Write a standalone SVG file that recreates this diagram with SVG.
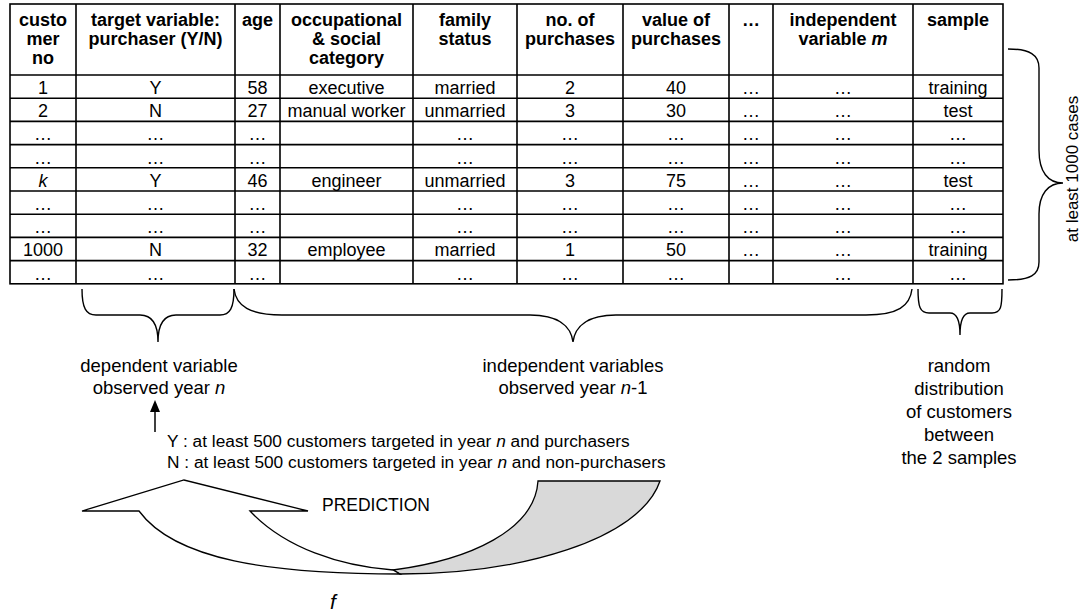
<svg xmlns="http://www.w3.org/2000/svg" width="1091" height="613" viewBox="0 0 1091 613">
  <style>
    text { font-family: "Liberation Sans", Arial, sans-serif; fill: #000; }
    .h { font-size: 18px; font-weight: bold; text-anchor: middle; }
    .c { font-size: 18px; text-anchor: middle; }
    .lbl { font-size: 18.5px; text-anchor: middle; }
    .note { font-size: 17.3px; }
    .grid { stroke: #000; stroke-width: 1.6; fill: none; }
    .brace { stroke: #000; stroke-width: 1.4; fill: none; }
    .shape { stroke: #000; stroke-width: 1.3; stroke-linejoin: miter; }
  </style>
  <rect width="1091" height="613" fill="#fff"/>

  <!-- data table -->
  <g id="table">
    <rect class="grid" x="10" y="4" width="993" height="279.8"/>
    <g class="grid">
      <path d="M76,4V283.8 M235,4V283.8 M280,4V283.8 M413,4V283.8 M517,4V283.8 M623,4V283.8 M729,4V283.8 M773,4V283.8 M913,4V283.8"/>
      <path d="M10,75H1003 M10,98.2H1003 M10,121.4H1003 M10,144.6H1003 M10,167.8H1003 M10,191H1003 M10,214.2H1003 M10,237.4H1003 M10,260.6H1003"/>
    </g>
    <!-- header -->
    <g id="header">
      <text class="h" x="43" y="26">custo</text>
      <text class="h" x="43" y="45">mer</text>
      <text class="h" x="43" y="64">no</text>
      <text class="h" x="155.5" y="26">target variable:</text>
      <text class="h" x="155.5" y="45">purchaser (Y/N)</text>
      <text class="h" x="257.5" y="26">age</text>
      <text class="h" x="346.5" y="26">occupational</text>
      <text class="h" x="346.5" y="45">&amp; social</text>
      <text class="h" x="346.5" y="64">category</text>
      <text class="h" x="465" y="26">family</text>
      <text class="h" x="465" y="45">status</text>
      <text class="h" x="570" y="26">no. of</text>
      <text class="h" x="570" y="45">purchases</text>
      <text class="h" x="676" y="26">value of</text>
      <text class="h" x="676" y="45">purchases</text>
      <text class="h" x="751" y="26">…</text>
      <text class="h" x="843" y="26">independent</text>
      <text class="h" x="843" y="45">variable <tspan font-style="italic">m</tspan></text>
      <text class="h" x="958" y="26">sample</text>
    </g>
    <!-- rows -->
    <g id="row1">
      <text class="c" x="43" y="94">1</text><text class="c" x="155.5" y="94">Y</text><text class="c" x="257.5" y="94">58</text>
      <text class="c" x="346.5" y="94">executive</text><text class="c" x="465" y="94">married</text><text class="c" x="570" y="94">2</text>
      <text class="c" x="676" y="94">40</text><text class="c" x="751" y="94">…</text><text class="c" x="843" y="94">…</text><text class="c" x="958" y="94">training</text>
    </g>
    <g id="row2">
      <text class="c" x="43" y="117.2">2</text><text class="c" x="155.5" y="117.2">N</text><text class="c" x="257.5" y="117.2">27</text>
      <text class="c" x="346.5" y="117.2">manual worker</text><text class="c" x="465" y="117.2">unmarried</text><text class="c" x="570" y="117.2">3</text>
      <text class="c" x="676" y="117.2">30</text><text class="c" x="751" y="117.2">…</text><text class="c" x="843" y="117.2">…</text><text class="c" x="958" y="117.2">test</text>
    </g>
    <g id="row3">
      <text class="c" x="43" y="140.4">…</text><text class="c" x="155.5" y="140.4">…</text><text class="c" x="257.5" y="140.4">…</text>
      <text class="c" x="465" y="140.4">…</text><text class="c" x="570" y="140.4">…</text>
      <text class="c" x="676" y="140.4">…</text><text class="c" x="751" y="140.4">…</text><text class="c" x="843" y="140.4">…</text><text class="c" x="958" y="140.4">…</text>
    </g>
    <g id="row4">
      <text class="c" x="43" y="163.6">…</text><text class="c" x="155.5" y="163.6">…</text><text class="c" x="257.5" y="163.6">…</text>
      <text class="c" x="465" y="163.6">…</text><text class="c" x="570" y="163.6">…</text>
      <text class="c" x="676" y="163.6">…</text><text class="c" x="751" y="163.6">…</text><text class="c" x="843" y="163.6">…</text><text class="c" x="958" y="163.6">…</text>
    </g>
    <g id="row5">
      <text class="c" x="43" y="186.8" font-style="italic">k</text><text class="c" x="155.5" y="186.8">Y</text><text class="c" x="257.5" y="186.8">46</text>
      <text class="c" x="346.5" y="186.8">engineer</text><text class="c" x="465" y="186.8">unmarried</text><text class="c" x="570" y="186.8">3</text>
      <text class="c" x="676" y="186.8">75</text><text class="c" x="751" y="186.8">…</text><text class="c" x="843" y="186.8">…</text><text class="c" x="958" y="186.8">test</text>
    </g>
    <g id="row6">
      <text class="c" x="43" y="210">…</text><text class="c" x="155.5" y="210">…</text><text class="c" x="257.5" y="210">…</text>
      <text class="c" x="465" y="210">…</text><text class="c" x="570" y="210">…</text>
      <text class="c" x="676" y="210">…</text><text class="c" x="751" y="210">…</text><text class="c" x="843" y="210">…</text><text class="c" x="958" y="210">…</text>
    </g>
    <g id="row7">
      <text class="c" x="43" y="233.2">…</text><text class="c" x="155.5" y="233.2">…</text><text class="c" x="257.5" y="233.2">…</text>
      <text class="c" x="465" y="233.2">…</text><text class="c" x="570" y="233.2">…</text>
      <text class="c" x="676" y="233.2">…</text><text class="c" x="751" y="233.2">…</text><text class="c" x="843" y="233.2">…</text><text class="c" x="958" y="233.2">…</text>
    </g>
    <g id="row8">
      <text class="c" x="43" y="256.4">1000</text><text class="c" x="155.5" y="256.4">N</text><text class="c" x="257.5" y="256.4">32</text>
      <text class="c" x="346.5" y="256.4">employee</text><text class="c" x="465" y="256.4">married</text><text class="c" x="570" y="256.4">1</text>
      <text class="c" x="676" y="256.4">50</text><text class="c" x="751" y="256.4">…</text><text class="c" x="843" y="256.4">…</text><text class="c" x="958" y="256.4">training</text>
    </g>
    <g id="row9">
      <text class="c" x="43" y="279.6">…</text><text class="c" x="155.5" y="279.6">…</text><text class="c" x="257.5" y="279.6">…</text>
      <text class="c" x="465" y="279.6">…</text><text class="c" x="570" y="279.6">…</text>
      <text class="c" x="676" y="279.6">…</text><text class="c" x="843" y="279.6">…</text><text class="c" x="958" y="279.6">…</text>
    </g>
  </g>

  <!-- braces -->
  <g id="braces" class="brace">
    <path id="brace-cases" d="M1008,49 C1030,49 1039,55 1039,68 L1039,150 C1039,172 1048,183 1063,183 C1048,183 1039,194 1039,214 L1039,262 C1039,275 1030,280 1008,280"/>
    <path id="brace-dependent" d="M82,289 C82,308 86,315 96,315 L140,315 C152,315 158,324 158,342 C158,324 164,315 176,315 L220,315 C230,315 234,308 234,289"/>
    <path id="brace-independent" d="M234,289 C236,306 250,315 282,315 L530,315 C558,315 571,326 573,342 C575,326 588,315 616,315 L866,315 C898,315 910,306 912,289"/>
    <path id="brace-sample" d="M918,289 C918,307 920,313 929,313 L950,313 C956,313 960,320 960,335 C960,320 964,313 970,313 L992,313 C1001,313 1002,307 1002,289"/>
  </g>

  <!-- labels -->
  <g id="labels">
    <text class="lbl" transform="translate(1078,169) rotate(-90)" style="font-size:17px">at least 1000 cases</text>
    <text class="lbl" x="159" y="372">dependent variable</text>
    <text class="lbl" x="159" y="394">observed year <tspan font-style="italic">n</tspan></text>
    <text class="lbl" x="573" y="372">independent variables</text>
    <text class="lbl" x="573" y="394">observed year <tspan font-style="italic">n</tspan>-1</text>
    <text class="lbl" x="959" y="372">random</text>
    <text class="lbl" x="959" y="395">distribution</text>
    <text class="lbl" x="959" y="418">of customers</text>
    <text class="lbl" x="959" y="441">between</text>
    <text class="lbl" x="959" y="464">the 2 samples</text>
    <text class="note" x="167" y="447">Y : at least 500 customers targeted in year <tspan font-style="italic">n</tspan> and purchasers</text>
    <text class="note" x="167" y="468">N : at least 500 customers targeted in year <tspan font-style="italic">n</tspan> and non-purchasers</text>
  </g>

  <!-- small up arrow -->
  <g id="connectors">
    <line x1="155" y1="432" x2="155" y2="410" stroke="#000" stroke-width="1.5"/>
    <path d="M155,400 L160,412 L150,412 Z" fill="#000"/>
  </g>

  <!-- curved prediction arrow -->
  <g id="prediction">
    <path class="shape" fill="#d9d9d9" d="M393,570 C470,560 535,530 538,481 L660,481 C640,540 520,574 400,574 Z"/>
    <path class="shape" fill="#fff" d="M139,511 L82,511 L184,480 L308,511 L250,511 C285,548 340,566 393,570 L400,574 C270,574 175,560 139,511 Z"/>
    <text class="note" x="322" y="511" style="font-size:17.5px">PREDICTION</text>
    <text class="note" x="330" y="609" style="font-size:21px;font-style:italic">f</text>
  </g>
</svg>
